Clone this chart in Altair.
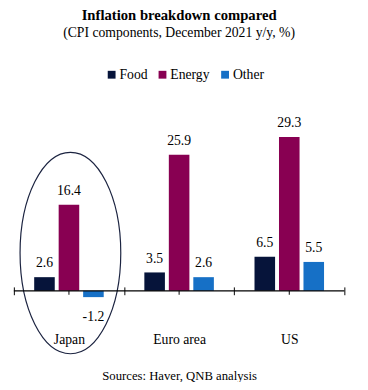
import altair as alt
import pandas as pd

countries = ["Japan", "Euro area", "US"]
series = ["Food", "Energy", "Other"]
food = [2.6, 3.5, 6.5]
energy = [16.4, 25.9, 29.3]
other = [-1.2, 2.6, 5.5]
colors = ["#06143a", "#880052", "#1670c6"]
title_text = "Inflation breakdown compared"
subtitle_text = "(CPI components, December 2021 y/y, %)"
source_note = "Sources: Haver, QNB analysis"
highlight = ["Japan"]
highlight_center = [7.2]

rows = []
for s, vals in zip(series, [food, energy, other]):
    for c, v in zip(countries, vals):
        rows.append({"country": c, "series": s, "value": v, "label": f"{v:.1f}"})
df = pd.DataFrame(rows)

FONT = "Liberation Serif"
W, H = 338, 188
YMAX = 35
ELLIPSE = "M0,-1A0.5,1,0,1,1,0,1A0.5,1,0,1,1,0,-1Z"

AX = alt.Axis(title=source_note, labelFont=FONT, labelFontSize=14,
              labelColor="black", labelPadding=39, tickSize=8, tickBand="extent",
              offset=-4, domain=False,
              tickColor="black", tickWidth=1,
              titleFont=FONT, titleFontSize=13,
              titleFontWeight="normal", titleColor="black",
              titlePadding=24, labelAngle=0)
xenc = alt.X("country:N", sort=countries,
             scale=alt.Scale(paddingInner=0, paddingOuter=0), axis=AX)
xoff = alt.XOffset("series:N", sort=series,
                   scale=alt.Scale(paddingInner=0.16, paddingOuter=0.83))
yscale = alt.Scale(domain=[0, YMAX], nice=False, zero=True)
yenc = alt.Y("value:Q", scale=yscale, axis=None)

bars = alt.Chart(df).mark_bar().encode(
    x=xenc,
    xOffset=xoff,
    y=yenc,
    color=alt.Color("series:N", sort=series,
                    scale=alt.Scale(domain=series, range=colors),
                    legend=alt.Legend(title=None, orient="none", legendX=93, legendY=-40,
                                      direction="horizontal", symbolType="square",
                                      symbolSize=64, symbolStrokeWidth=0,
                                      labelFont=FONT, labelFontSize=14,
                                      labelColor="black", columnPadding=8,
                                      labelOffset=1)),
)

pos_labels = alt.Chart(df).transform_filter("datum.value >= 0").mark_text(
    baseline="alphabetic", dy=-10, font=FONT, fontSize=14, color="black"
).encode(x=xenc, xOffset=xoff, y=yenc, text="label:N")

neg_labels = alt.Chart(df).transform_filter("datum.value < 0").mark_text(
    baseline="top", dy=13, font=FONT, fontSize=14, color="black"
).encode(x=xenc, xOffset=xoff, y=yenc, text="label:N")

tick_df = pd.DataFrame({"country": countries, "lo": [-0.75] * 3, "hi": [0.0] * 3})
center_ticks = alt.Chart(tick_df).mark_rule(color="black", strokeWidth=1).encode(
    x=xenc, y=alt.Y("lo:Q", scale=yscale, axis=None), y2="hi:Q")

zero_df = pd.DataFrame({"zero": [0.0]})
zero_line = alt.Chart(zero_df).mark_rule(color="black", strokeWidth=1.3).encode(
    y=alt.Y("zero:Q", scale=yscale, axis=None))

ellipse = alt.Chart(pd.DataFrame({"country": highlight, "yc": highlight_center})).mark_point(
    shape=ELLIPSE, size=42436, filled=False, stroke="#1b2340",
    strokeWidth=1.2, opacity=1, xOffset=1.5
).encode(x=xenc, y=alt.Y("yc:Q", scale=yscale, axis=None))

chart = alt.layer(ellipse, bars, pos_labels, neg_labels, center_ticks, zero_line).properties(
    width=W, height=H,
    autosize=alt.AutoSizeParams(type="none"),
    padding={"left": 6, "top": 97, "right": 16, "bottom": 89},
    title=alt.Title(title_text, subtitle=subtitle_text, font=FONT, fontSize=15,
                    fontWeight="bold", color="black", subtitleFont=FONT,
                    subtitleFontSize=14, subtitleColor="black", anchor="middle",
                    offset=29, subtitlePadding=3),
).configure_view(stroke=None)

chart.save("out.html", embed_options={"renderer": "svg", "actions": False})
